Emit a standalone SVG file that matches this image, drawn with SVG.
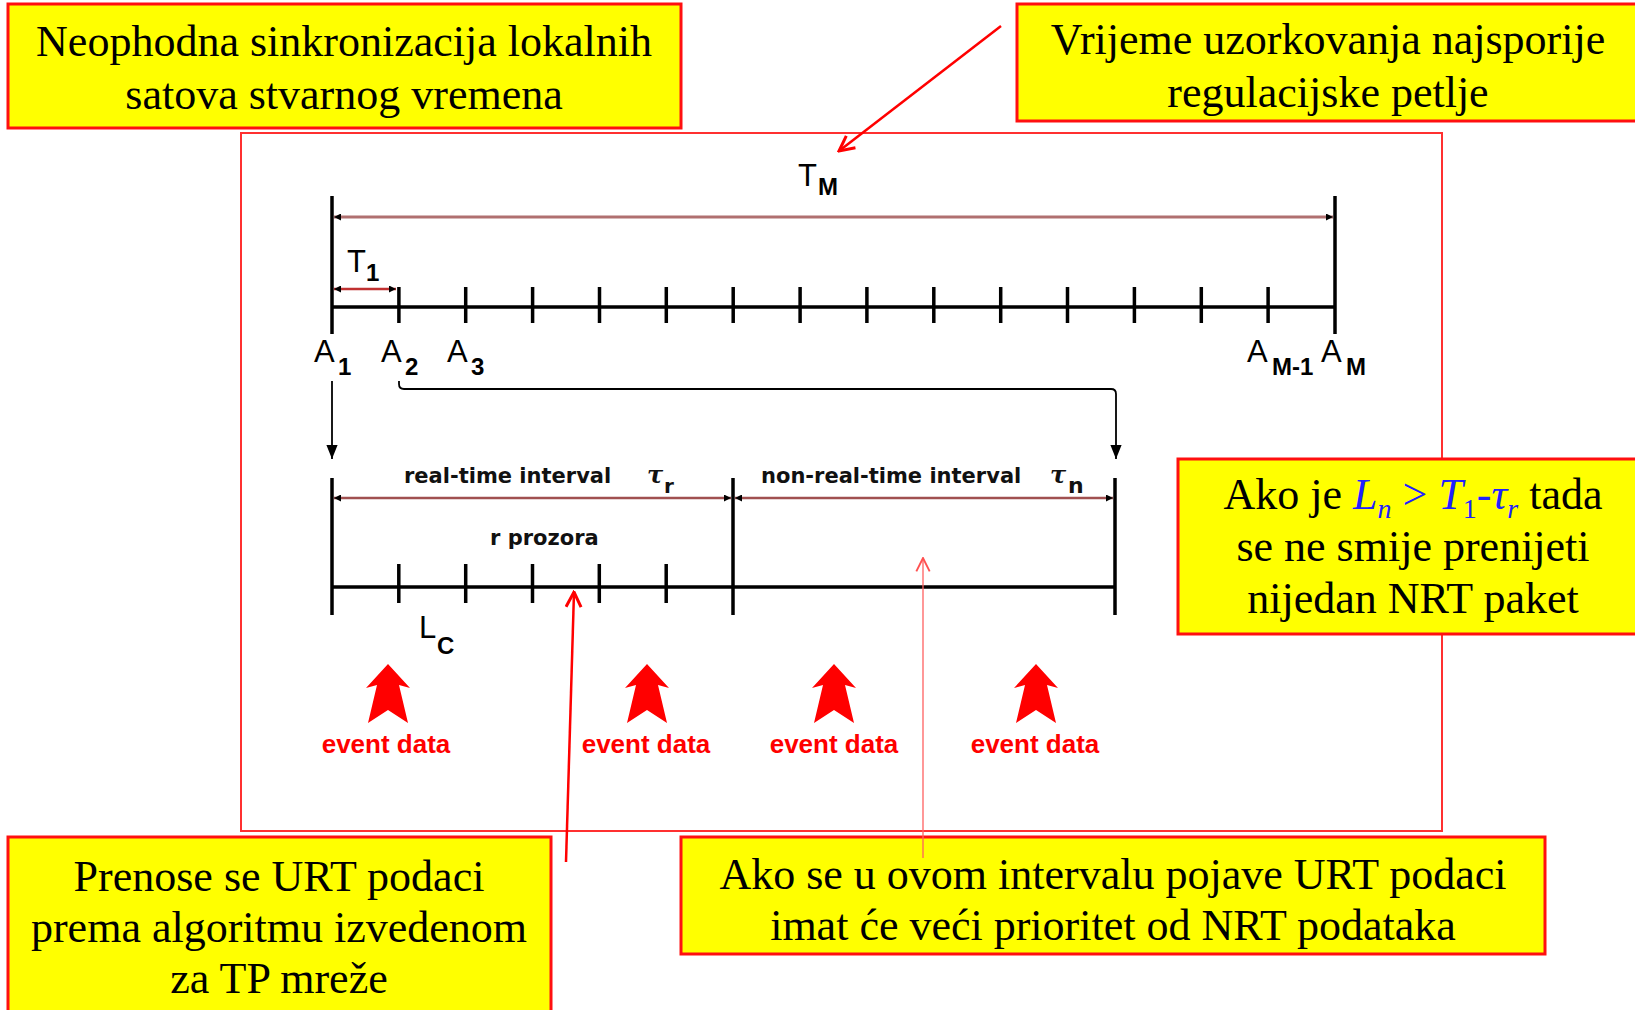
<svg xmlns="http://www.w3.org/2000/svg" width="1635" height="1010" viewBox="0 0 1635 1010">
<style>
.box{fill:#ffff00;stroke:#ff1010;stroke-width:3}
.bt{font-family:"Liberation Serif","Times New Roman",serif;font-size:44px;fill:#000;text-anchor:middle}
.lbl{font-family:"Liberation Sans",Arial,sans-serif;font-size:31px;fill:#000}
.sub{font-family:"Liberation Sans",Arial,sans-serif;font-size:24px;font-weight:bold;fill:#000}
.iv{font-family:"DejaVu Sans",sans-serif;font-size:21px;font-weight:bold;fill:#111}
.tau{font-family:"DejaVu Serif",serif;font-style:italic;font-size:24px;font-weight:bold;fill:#111}
.ev{font-family:"Liberation Sans",Arial,sans-serif;font-size:26px;font-weight:bold;fill:#ff0000;text-anchor:middle}
.axis{stroke:#000;stroke-width:3.5;fill:none}
.tick{stroke:#000;stroke-width:3.5}
.dim{stroke:#b07070;stroke-width:3;fill:none}
.blue{fill:#2020ff;font-style:italic}
</style>
<defs>
<marker id="dn" viewBox="0 0 10 10" refX="10" refY="5" markerWidth="7" markerHeight="7" markerUnits="userSpaceOnUse" orient="auto-start-reverse"><path d="M0,0 L10,5 L0,10 z" fill="#000"/></marker>
<marker id="dnb" viewBox="0 0 10 10" refX="10" refY="5" markerWidth="14" markerHeight="14" markerUnits="userSpaceOnUse" orient="auto"><path d="M0,1 L10,5 L0,9 z" fill="#000"/></marker>
<marker id="rv" viewBox="0 0 12 12" refX="11" refY="6" markerWidth="18" markerHeight="18" markerUnits="userSpaceOnUse" orient="auto"><path d="M1,1 L11,6 L1,11" fill="none" stroke="#ff0000" stroke-width="2"/></marker>
<marker id="rvt" viewBox="0 0 12 12" refX="11" refY="6" markerWidth="16" markerHeight="16" markerUnits="userSpaceOnUse" orient="auto"><path d="M1,1 L11,6 L1,11" fill="none" stroke="#ff5050" stroke-width="1.4"/></marker>
<path id="evA" d="M0,0 L22,24 L11,21 L20,59 L0,46 L-20,59 L-11,21 L-22,24 Z" fill="#ff0000"/>
</defs>

<g id="frame"><rect x="241" y="133" width="1201" height="698" fill="#fff" stroke="#ff3030" stroke-width="2"/></g>

<g id="timeline-top">
<line class="axis" x1="332" y1="307" x2="1335" y2="307"/>
<line class="tick" x1="332" y1="196" x2="332" y2="334"/>
<line class="tick" x1="1335" y1="196" x2="1335" y2="334"/>
<g class="tick">
<line x1="398.9" y1="287" x2="398.9" y2="323"/>
<line x1="465.7" y1="287" x2="465.7" y2="323"/>
<line x1="532.6" y1="287" x2="532.6" y2="323"/>
<line x1="599.5" y1="287" x2="599.5" y2="323"/>
<line x1="666.3" y1="287" x2="666.3" y2="323"/>
<line x1="733.2" y1="287" x2="733.2" y2="323"/>
<line x1="800.1" y1="287" x2="800.1" y2="323"/>
<line x1="866.9" y1="287" x2="866.9" y2="323"/>
<line x1="933.8" y1="287" x2="933.8" y2="323"/>
<line x1="1000.7" y1="287" x2="1000.7" y2="323"/>
<line x1="1067.5" y1="287" x2="1067.5" y2="323"/>
<line x1="1134.4" y1="287" x2="1134.4" y2="323"/>
<line x1="1201.3" y1="287" x2="1201.3" y2="323"/>
<line x1="1268.1" y1="287" x2="1268.1" y2="323"/>
</g>
<line class="dim" x1="334" y1="217" x2="1333" y2="217" marker-start="url(#dn)" marker-end="url(#dn)"/>
<line x1="334" y1="289" x2="396" y2="289" stroke="#c03030" stroke-width="2.5" marker-start="url(#dn)" marker-end="url(#dn)"/>
<text class="lbl" x="798" y="186">T</text><text class="sub" x="818" y="195">M</text>
<text class="lbl" x="347" y="272">T</text><text class="sub" x="366" y="281">1</text>
<text class="lbl" x="314" y="362">A</text><text class="sub" x="338" y="375">1</text>
<text class="lbl" x="381" y="362">A</text><text class="sub" x="405" y="375">2</text>
<text class="lbl" x="447" y="362">A</text><text class="sub" x="471" y="375">3</text>
<text class="lbl" x="1247" y="362">A</text><text class="sub" x="1272" y="375">M-1</text>
<text class="lbl" x="1321" y="362">A</text><text class="sub" x="1346" y="375">M</text>
</g>

<g id="timeline-bottom">
<line class="axis" x1="332" y1="587" x2="1115" y2="587"/>
<line class="tick" x1="332" y1="478" x2="332" y2="615"/>
<line class="tick" x1="733" y1="478" x2="733" y2="615"/>
<line class="tick" x1="1115" y1="478" x2="1115" y2="615"/>
<g class="tick">
<line x1="398.8" y1="564" x2="398.8" y2="603"/>
<line x1="465.7" y1="564" x2="465.7" y2="603"/>
<line x1="532.5" y1="564" x2="532.5" y2="603"/>
<line x1="599.3" y1="564" x2="599.3" y2="603"/>
<line x1="666.2" y1="564" x2="666.2" y2="603"/>
</g>
<line x1="334" y1="498" x2="731" y2="498" stroke="#a05050" stroke-width="2.5" marker-start="url(#dn)" marker-end="url(#dn)"/>
<line x1="735" y1="498" x2="1113" y2="498" stroke="#a05050" stroke-width="2.5" marker-start="url(#dn)" marker-end="url(#dn)"/>
<text class="iv" x="404" y="483">real-time interval</text>
<text class="tau" x="647" y="483">τ</text><text class="iv" x="664" y="493" style="font-size:20px">r</text>
<text class="iv" x="761" y="483">non-real-time interval</text>
<text class="tau" x="1050" y="483">τ</text><text class="iv" x="1068" y="493" style="font-size:22px">n</text>
<text class="iv" x="490" y="545">r prozora</text>
<text class="lbl" x="419" y="638">L</text><text class="sub" x="437" y="654">C</text>
</g>

<g id="events">
<use href="#evA" x="388" y="664"/>
<use href="#evA" x="647" y="664"/>
<use href="#evA" x="834" y="664"/>
<use href="#evA" x="1036" y="664"/>
<text class="ev" x="386" y="753">event data</text>
<text class="ev" x="646" y="753">event data</text>
<text class="ev" x="834" y="753">event data</text>
<text class="ev" x="1035" y="753">event data</text>
</g>

<g id="box-sync"><rect class="box" x="8" y="4" width="673" height="124"/>
<text class="bt" x="344" y="56">Neophodna sinkronizacija lokalnih</text>
<text class="bt" x="344" y="109">satova stvarnog vremena</text></g>

<g id="box-tm"><rect class="box" x="1017" y="4" width="625" height="117"/>
<text class="bt" x="1328" y="54">Vrijeme uzorkovanja najsporije</text>
<text class="bt" x="1328" y="107">regulacijske petlje</text></g>

<g id="box-cond"><rect class="box" x="1178" y="459" width="464" height="175"/>
<text class="bt" x="1413" y="509">Ako je <tspan class="blue">L</tspan><tspan class="blue" dy="9" font-size="28">n</tspan><tspan class="blue" dy="-9" style="font-style:normal"> &gt; </tspan><tspan class="blue">T</tspan><tspan class="blue" dy="9" font-size="28" style="font-style:normal">1</tspan><tspan class="blue" dy="-9" style="font-style:normal">-</tspan><tspan class="blue">τ</tspan><tspan class="blue" dy="9" font-size="28">r</tspan><tspan dy="-9"> tada</tspan></text>
<text class="bt" x="1413" y="561">se ne smije prenijeti</text>
<text class="bt" x="1413" y="613">nijedan NRT paket</text></g>

<g id="box-urt"><rect class="box" x="8" y="837" width="543" height="180"/>
<text class="bt" x="279" y="891">Prenose se URT podaci</text>
<text class="bt" x="279" y="942">prema algoritmu izvedenom</text>
<text class="bt" x="279" y="993">za TP mreže</text></g>

<g id="box-prio"><rect class="box" x="681" y="837" width="864" height="117"/>
<text class="bt" x="1113" y="889">Ako se u ovom intervalu pojave URT podaci</text>
<text class="bt" x="1113" y="940">imat će veći prioritet od NRT podataka</text></g>

<g id="connectors">
<line x1="332" y1="381" x2="332" y2="459" stroke="#000" stroke-width="1.8" marker-end="url(#dnb)"/>
<path d="M399,381 V384 Q399,389 404,389 H1111 Q1116,389 1116,394 V459" fill="none" stroke="#000" stroke-width="1.8" marker-end="url(#dnb)"/>
<line x1="1001" y1="26" x2="839" y2="151" stroke="#ff0000" stroke-width="2.5" marker-end="url(#rv)"/>
<line x1="566" y1="862" x2="574" y2="592" stroke="#ff0000" stroke-width="2.5" marker-end="url(#rv)"/>
<line x1="923" y1="858" x2="923" y2="558" stroke="#ff6060" stroke-width="1.3" marker-end="url(#rvt)"/>
</g>
</svg>
